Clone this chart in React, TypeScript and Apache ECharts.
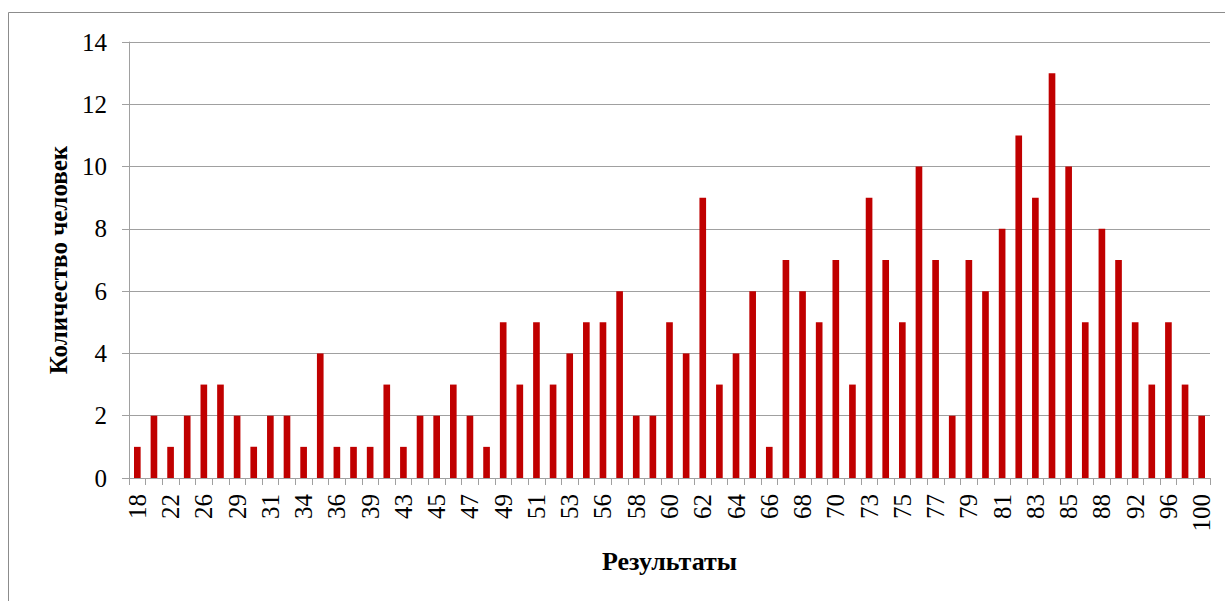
import React, { useEffect, useRef } from "react";
import * as echarts from "echarts";

const categories: string[] = [
  "18", "20", "22", "24", "26", "27", "29", "30", "31", "32", "34", "35", "36", "37", "39", "41",
  "43", "44", "45", "46", "47", "48", "49", "50", "51", "52", "53", "55", "56", "57", "58", "59",
  "60", "61", "62", "63", "64", "65", "66", "67", "68", "69", "70", "72", "73", "74", "75", "76",
  "77", "78", "79", "80", "81", "82", "83", "84", "85", "86", "88", "90", "92", "94", "96", "98", "100",
];

const counts: number[] = [
  1, 2, 1, 2, 3, 3, 2, 1, 2, 2, 1, 4, 1, 1, 1, 3,
  1, 2, 2, 3, 2, 1, 5, 3, 5, 3, 4, 5, 5, 6, 2, 2,
  5, 4, 9, 3, 4, 6, 1, 7, 6, 5, 7, 3, 9, 7, 5, 10,
  7, 2, 7, 6, 8, 11, 9, 13, 10, 5, 8, 7, 5, 3, 5, 3, 2,
];

const yTitle = "Количество человек";
const xTitle = "Результаты";

const FONT = "Liberation Serif";

export default function App() {
  const ref = useRef<HTMLDivElement>(null);
  useEffect(() => {
    if (!ref.current) return;
    const chart = echarts.init(ref.current, undefined, { renderer: "svg" });
    chart.setOption({
      animation: false,
      backgroundColor: "#ffffff",
      textStyle: { fontFamily: FONT, color: "#000" },
      graphic: [
        {
          type: "rect",
          shape: { x: 8.5, y: 12.5, width: 1300, height: 700 },
          style: { fill: "none", stroke: "#8c8c8c", lineWidth: 1 },
          silent: true,
          z: -1,
        },
      ],
      grid: { left: 129, right: 15, top: 42, bottom: 601 - 478 },
      xAxis: {
        type: "category",
        data: categories,
        name: xTitle,
        nameLocation: "middle",
        nameGap: 70,
        nameTextStyle: { fontFamily: FONT, fontSize: 26, fontWeight: "bold", color: "#000" },
        axisLine: { lineStyle: { color: "#a0a0a0", width: 1 } },
        axisTick: { show: true, interval: 0, length: 7, lineStyle: { color: "#a0a0a0" } },
        axisLabel: {
          interval: 1,
          rotate: 90,
          margin: 16,
          fontFamily: FONT,
          fontSize: 25,
          color: "#000",
        },
        splitLine: { show: false },
      },
      yAxis: {
        type: "value",
        min: 0,
        max: 14,
        interval: 2,
        name: yTitle,
        nameLocation: "middle",
        nameGap: 58,
        nameTextStyle: { fontFamily: FONT, fontSize: 25, fontWeight: "bold", color: "#000" },
        axisLine: { show: true, lineStyle: { color: "#a0a0a0", width: 1 } },
        axisTick: { show: true, length: 7, lineStyle: { color: "#a0a0a0" } },
        axisLabel: { margin: 22, fontFamily: FONT, fontSize: 25, color: "#000" },
        splitLine: { show: true, lineStyle: { color: "#a0a0a0", width: 1 } },
      },
      series: [
        {
          type: "bar",
          data: counts,
          barWidth: "40%",
          itemStyle: { color: "#c00000" },
        },
      ],
    });
    return () => chart.dispose();
  }, []);
  return (
    <div
      ref={ref}
      style={{ position: "fixed", left: 0, top: 0, width: 1225, height: 601 }}
    />
  );
}
